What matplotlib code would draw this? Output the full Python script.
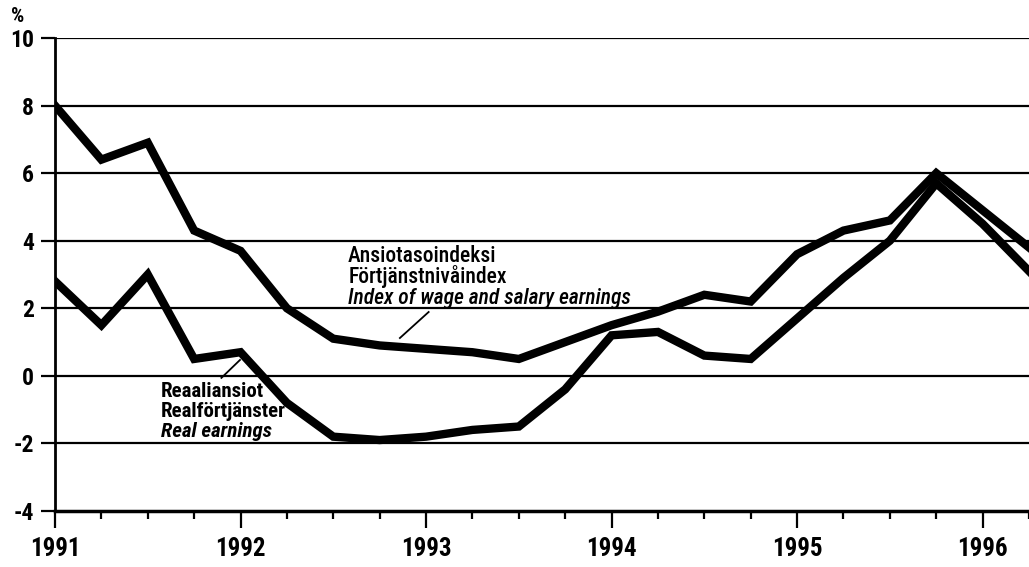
import matplotlib
matplotlib.use("Agg")
import matplotlib.pyplot as plt
import numpy as np

# Quarterly data, 1991Q1 .. 1996Q2 (year-on-year change, %)
quarters = np.arange(1991.0, 1996.26, 0.25)
wage_index = [8.0, 6.4, 6.9, 4.3, 3.7, 2.0, 1.1, 0.9, 0.8, 0.7, 0.5,
              1.0, 1.5, 1.9, 2.4, 2.2, 3.6, 4.3, 4.6, 6.0, 4.9, 3.8]
real_earnings = [2.8, 1.5, 3.0, 0.5, 0.7, -0.8, -1.8, -1.9, -1.8, -1.6, -1.5,
                 -0.4, 1.2, 1.3, 0.6, 0.5, 1.7, 2.9, 4.0, 5.7, 4.5, 3.1]

years = [1991, 1992, 1993, 1994, 1995, 1996]
yticks = [-4, -2, 0, 2, 4, 6, 8, 10]

wage_label = ["Ansiotasoindeksi", "Förtjänstnivåindex", "Index of wage and salary earnings"]
real_label = ["Reaaliansiot", "Realförtjänster", "Real earnings"]

plt.rcParams['font.family'] = ['Roboto Condensed', 'DejaVu Sans']

fig = plt.figure(figsize=(10.29, 5.67), dpi=100)
ax = fig.add_axes([55 / 1029, 1 - 511 / 567, 1 - 55 / 1029, (511 - 38) / 567])

# horizontal grid
for y in yticks[1:]:
    ax.axhline(y, color='black', lw=1.6, zorder=1)

ax.plot(quarters, wage_index, color='black', lw=6, solid_joinstyle='miter', zorder=3)
ax.plot(quarters, real_earnings, color='black', lw=6, solid_joinstyle='miter', zorder=3)

ax.set_xlim(1991, 1996.25)
ax.set_ylim(-4, 10)
ax.set_xticks(years)
ax.set_xticks(quarters, minor=True)
ax.set_yticks(yticks)
ax.set_xticklabels([str(y) for y in years], fontsize=18, fontweight='bold')
ax.set_yticklabels([str(y) for y in yticks], fontsize=17, fontweight='bold')
ax.tick_params(axis='x', which='major', length=12, width=1.6, direction='out', pad=7)
ax.tick_params(axis='x', which='minor', length=6, width=1.6, direction='out')
ax.tick_params(axis='y', which='major', length=10, width=1.6, direction='out', pad=5)

for side in ['top', 'right']:
    ax.spines[side].set_visible(False)
ax.spines['left'].set_linewidth(2)
ax.spines['bottom'].set_linewidth(2.5)

fig.text(18 / 1029, 1 - 16 / 567, "%", fontsize=15, fontweight='bold', ha='center', va='center')

# wage index annotation
ax.text(1992.58, 3.37, wage_label[0], fontsize=15.5, va='baseline', fontweight='medium')
ax.text(1992.58, 2.75, wage_label[1], fontsize=15.5, va='baseline', fontweight='medium')
ax.text(1992.58, 2.13, wage_label[2], fontsize=15.5, va='baseline', style='italic', fontweight='medium')
ax.plot([1992.859, 1993.014], [1.12, 1.89], color='black', lw=1.3)

# real earnings annotation
ax.text(1991.57, -0.62, real_label[0], fontsize=15, va='baseline', fontweight='bold')
ax.text(1991.57, -1.21, real_label[1], fontsize=15, va='baseline', fontweight='bold')
ax.text(1991.57, -1.81, real_label[2], fontsize=15, va='baseline', style='italic', fontweight='bold')
ax.plot([1991.897, 1991.997], [-0.06, 0.47], color='black', lw=1.3)

fig.savefig("out.png", dpi=100)
